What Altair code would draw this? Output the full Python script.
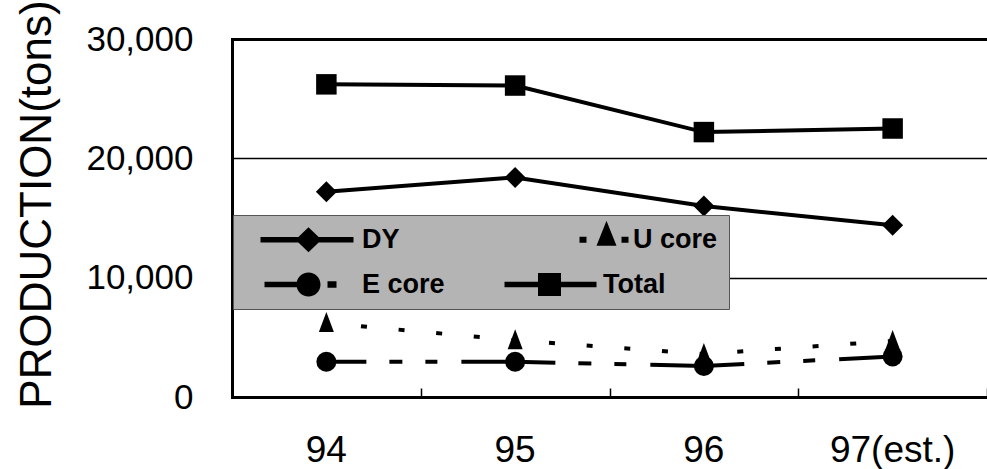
import altair as alt
import pandas as pd

# Production by year and product line (tons)
years = ["94", "95", "96", "97(est.)"]
series_names = ["DY", "U core", "E core", "Total"]
dy = [17200, 18400, 16000, 14400]
u_core = [6200, 4750, 3600, 4700]
e_core = [2950, 2950, 2600, 3400]
total = [26200, 26100, 22200, 22500]
y_ticks = [0, 10000, 20000, 30000]

by_series = {"DY": dy, "U core": u_core, "E core": e_core, "Total": total}
df = pd.DataFrame(
    [{"year": yr, "series": s, "value": v}
     for s in series_names for yr, v in zip(years, by_series[s])]
)

FONT = "Liberation Sans"

x_scale = alt.Scale(type="band", domain=years, paddingInner=0, paddingOuter=0)
y_scale = alt.Scale(domain=[y_ticks[0], y_ticks[-1]], nice=False, zero=True)

x_axis = alt.Axis(
    orient="bottom", title=None, labelAngle=0, labelFont=FONT, labelFontSize=37,
    labelColor="black", labelPadding=35, labelBaseline="top", ticks=False,
    domain=True, domainColor="black", domainWidth=3, domainCap="square", grid=False,
)
y_axis = alt.Axis(
    values=y_ticks, format=",.0f", title="PRODUCTION(tons)", titleFont=FONT,
    titleFontSize=44, titleFontWeight="normal", titleColor="black", titleAngle=270,
    titleX=-182, titleY=165, titleAlign="center", titleBaseline="alphabetic",
    labelFont=FONT, labelFontSize=35, labelColor="black", labelPadding=39,
    ticks=False, domainColor="black", domainWidth=3, domainCap="square",
    grid=True, gridColor="black", gridWidth=1.3,
)

x = alt.X("year:N", sort=years, scale=x_scale, axis=x_axis, bandPosition=0.5)
y = alt.Y("value:Q", scale=y_scale, axis=y_axis)


def series_line(name, **style):
    return (
        alt.Chart(df)
        .transform_filter(alt.datum.series == name)
        .mark_line(color="black", strokeWidth=4, strokeCap="butt", strokeJoin="miter", **style)
        .encode(x=x, y=y)
    )


def series_points(name, shape, size):
    return (
        alt.Chart(df)
        .transform_filter(alt.datum.series == name)
        .mark_point(shape=shape, size=size, filled=True, color="black", opacity=1, strokeWidth=0)
        .encode(x=x, y=y)
    )


triangle = "M0,-1.1L0.75,0.9L-0.75,0.9Z"

lines = [
    series_line("U core", strokeDash=[6, 31.75], strokeDashOffset=3),
    series_line("E core", strokeDash=[94, 23, 13, 23, 12, 24], strokeDashOffset=54),
    series_line("DY"),
    series_line("Total"),
]
points = [
    series_points("E core", "circle", 400),
    series_points("U core", triangle, 400),
    series_points("DY", "diamond", 441),
    series_points("Total", "square", 420),
]

# Legend glyphs: line segment plus marker, drawn as one filled path each
legend_paths = [
    "M-4.8,-0.28H4.5V0.28H-4.8Z M0,-1.25L1.3,0L0,1.25L-1.3,0Z",
    "M3.0,-0.3H3.7V0.3H3.0Z M5.7,-1.9L6.7,0.6L4.7,0.6Z M7.2,-0.3H7.9V0.3H7.2Z",
    "M-4.4,-0.28H0V0.28H-4.4Z M1.2,0A1.2,1.2,0,1,1,-1.2,0A1.2,1.2,0,1,1,1.2,0Z M1.9,-0.32H2.8V0.32H1.9Z",
    "M-4.5,-0.28H4.7V0.28H-4.5Z M-1.15,-1.15H1.15V1.15H-1.15Z",
]
# zero-width space keeps the no-break spaces from being trimmed
indent = "\u200b" + "\u00a0" * 4
legend_layer = (
    alt.Chart(df)
    .transform_filter("false")
    .mark_point(filled=True, color="black", size=400, opacity=1)
    .encode(
        shape=alt.Shape(
            "series:N",
            scale=alt.Scale(domain=series_names, range=legend_paths),
            legend=alt.Legend(
                title=None, orient="none", legendX=1, legendY=176, columns=2,
                direction="horizontal",
                padding=11, fillColor="#b4b4b4", strokeColor="#555555",
                symbolSize=400, symbolOffset=51, labelOffset=40,
                columnPadding=40, rowPadding=17,
                labelFont=FONT, labelFontSize=27, labelFontWeight="bold",
                labelColor="black", symbolFillColor="black",
                symbolStrokeColor="black", symbolStrokeWidth=0,
                labelExpr=f"datum.label == 'U core' ? '{indent}U core' : datum.label",
            ),
        )
    )
)

main = alt.layer(*lines, *points, legend_layer)

# Short inward ticks at the category boundaries
tick_layer = alt.Chart(df).mark_point(size=0, opacity=0).encode(
    x=alt.X(
        "year:N", sort=years, scale=x_scale, bandPosition=0.5,
        axis=alt.Axis(
            orient="bottom", offset=-9, domain=False, labels=False, ticks=True,
            tickBand="extent", tickSize=9, tickWidth=1.5, tickColor="black",
            grid=False, title=None,
        ),
    )
)

# Top frame line
top_layer = alt.Chart(df).mark_point(size=0, opacity=0).encode(
    x=alt.X(
        "year:N", sort=years, scale=x_scale, bandPosition=0.5,
        axis=alt.Axis(
            orient="top", domain=True, domainColor="black", domainWidth=3,
            domainCap="square", labels=False, ticks=False, grid=False, title=None,
        ),
    )
)

chart = (
    alt.layer(main, tick_layer, top_layer)
    .resolve_axis(x="independent")
    .properties(
        width=755, height=358,
        autosize=alt.AutoSizeParams(type="none"),
        padding={"left": 232, "top": 39, "right": 0, "bottom": 72},
        background="white",
    )
    .configure_view(stroke=None)
)

chart.save("out.html", embed_options={"renderer": "svg", "actions": False})
